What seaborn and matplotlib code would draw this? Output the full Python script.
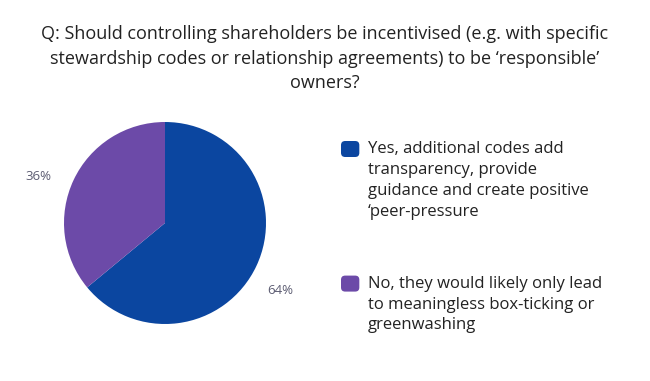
import matplotlib
matplotlib.use("Agg")
import matplotlib.pyplot as plt
import matplotlib.transforms as mtransforms
import seaborn as sns
from matplotlib.patches import FancyBboxPatch
from matplotlib.legend_handler import HandlerPatch
from matplotlib.patches import Patch

sns.set_theme(style="white")
plt.rcParams['font.family'] = ['Open Sans', 'DejaVu Sans']

categories = [
    "Yes, additional codes add\ntransparency, provide\nguidance and create positive\n\u2018peer-pressure",
    "No, they would likely only lead\nto meaningless box-ticking or\ngreenwashing",
]
values = [64, 36]
colors = ["#0b46a0", "#6c4aa8"]
title = ("Q: Should controlling shareholders be incentivised (e.g. with specific\n"
         "stewardship codes or relationship agreements) to be \u2018responsible\u2019\n"
         "owners?")

W, H = 650, 381
fig = plt.figure(figsize=(W / 100, H / 100), dpi=100)
fig.patch.set_facecolor("white")

cx, cy, r = 165, 223, 101
half = 1.5 * r
ax = fig.add_axes([(cx - half) / W, (H - cy - half) / H, 2 * half / W, 2 * half / H])
wedges, texts, autotexts = ax.pie(
    values, colors=colors, startangle=90, counterclock=False,
    autopct=lambda p: f"{p:.0f}%", pctdistance=1.32,
    wedgeprops=dict(linewidth=0),
    textprops=dict(color="#5c5c72", fontsize=9.5),
)
# small downward/left offset of the percentage labels (in points)
off = mtransforms.offset_copy(ax.transData, fig=fig, x=-4, y=-7.5, units="points")
for t in autotexts:
    t.set_transform(off)
ax.set_xlim(-1.5, 1.5)
ax.set_ylim(-1.5, 1.5)
ax.set_aspect("equal")
ax.axis("off")

fig.text(0.5, 1 - 25 / H, title, ha="center", va="top", fontsize=13,
         color="#222222", linespacing=1.47)


def rounded(legend, orig_handle, xdescent, ydescent, width, height, fontsize):
    return FancyBboxPatch((-xdescent, -ydescent), width, height,
                          boxstyle="round,pad=0,rounding_size=3")


handles = [Patch(facecolor=c, edgecolor="none") for c in colors]
leg = fig.legend(handles, categories, loc="upper left",
                 bbox_to_anchor=(326 / W, 1 - 126 / H),
                 frameon=False, fontsize=12, handlelength=1.1, handleheight=1.1,
                 handletextpad=0.5, labelspacing=3.35, labelcolor="#222222",
                 handler_map={Patch: HandlerPatch(patch_func=rounded)})
for t in leg.get_texts():
    t.set_linespacing(1.41)
for col in leg._legend_handle_box.get_children():
    for item in col.get_children():
        item.align = "top"

fig.savefig("out.png", dpi=100, facecolor="white")
